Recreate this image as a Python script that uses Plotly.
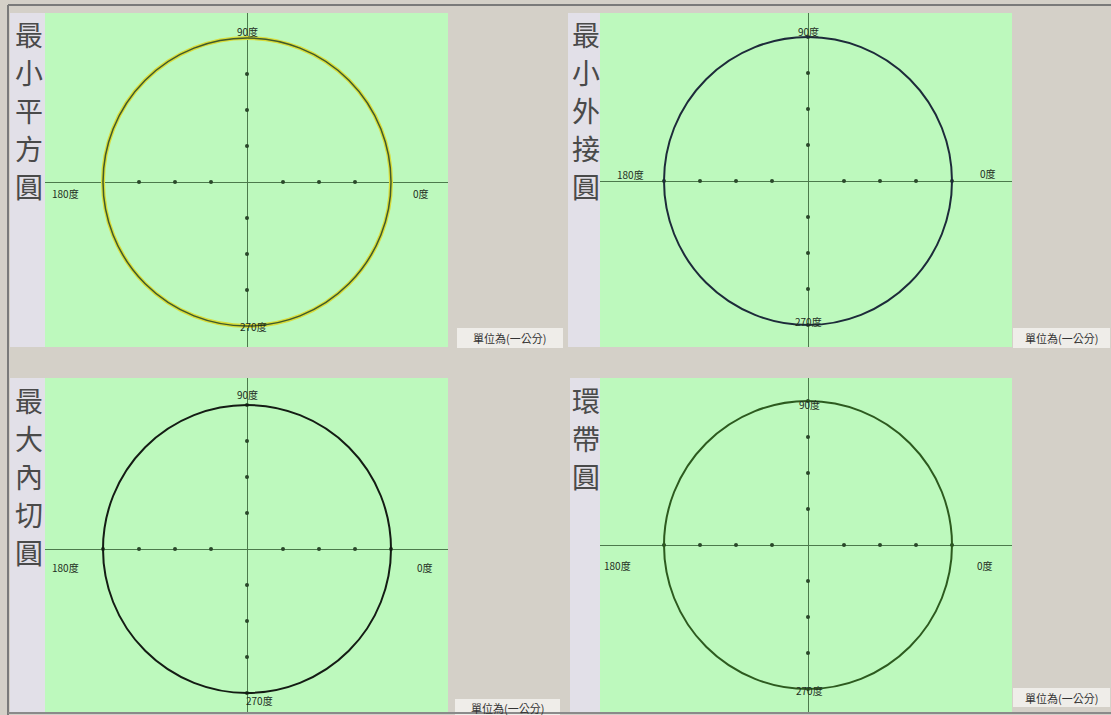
import plotly.graph_objects as go

W, H = 1111, 715

# ---------------- data ----------------
titles = ["最小平方圓", "最小外接圓", "最大內切圓", "環帶圓"]
radii = [4.0, 4.0, 4.0, 4.0]          # circle radius (cm)
centers_x = [0.0, 0.0, 0.0, 0.0]
centers_y = [0.0, 0.0, 0.0, 0.0]
tick_positions = [-4, -3, -2, -1, 1, 2, 3, 4]
angle_labels = ["0度", "90度", "180度", "270度"]
unit_label = "單位為(一公分)"

# ---------------- styling / layout ----------------
GRAY = "#d4d0c8"
GREEN = "#bdf9bd"
STRIP = "#e2e0e8"
AXIS = "#4c7a4c"
DOT = "#2a472a"
CJK = "Noto Sans CJK TC"

# panel boxes in pixels: (x0, x1, y0, y1, centre x px, centre y px)
panels = [
    (45, 448, 13, 347, 247, 182),
    (600, 1012, 13, 347, 808, 181),
    (45, 448, 378, 712, 247, 549),
    (600, 1012, 378, 712, 808, 545),
]
PX_PER_UNIT = 36.0

# label offsets (in data units) per panel for 0,90,180,270
label_pos = [
    [(4.83, -0.31), (0.0, 4.17), (-5.05, -0.31), (0.17, -4.0)],
    [(5.0, 0.22), (0.0, 4.14), (-4.94, 0.19), (0.0, -3.89)],
    [(4.94, -0.5), (0.0, 4.28), (-5.05, -0.5), (0.36, -4.22)],
    [(4.92, -0.56), (0.05, 3.89), (-5.28, -0.58), (0.05, -4.03)],
]
strip_px = [(10, 45, 13, 347), (568, 600, 13, 347), (10, 45, 378, 712), (570, 600, 378, 712)]
title_px = [(29, 34), (586, 34), (29, 400), (586, 400)]   # centre of first character
TITLE_PITCH = 38
unit_box_px = [(457, 563, 328, 348), (1013, 1110, 328, 348), (455, 560, 699, 717), (1013, 1110, 688, 707)]
circle_styles = [
    [dict(color="#d9dc3a", width=4), dict(color="#3f5a2c", width=1.5)],
    [dict(color="#1d2b3a", width=2)],
    [dict(color="#141c14", width=2)],
    [dict(color="#2d5a1f", width=2)],
]


def fx(p):
    return p / W


def fy(p):
    return 1 - p / H


fig = go.Figure()
layout = dict(
    width=W, height=H, margin=dict(l=0, r=0, t=0, b=0),
    paper_bgcolor=GRAY, plot_bgcolor=GREEN, showlegend=False,
)
shapes = []
annotations = []

# background strips (decoration)
for (x0, x1, y0, y1) in strip_px:
    shapes.append(dict(type="rect", xref="paper", yref="paper", x0=fx(x0), x1=fx(x1),
                       y0=fy(y1), y1=fy(y0), fillcolor=STRIP, line=dict(width=0), layer="below"))

for i, (x0, x1, y0, y1, cxp, cyp) in enumerate(panels):
    n = "" if i == 0 else str(i + 1)
    xa, ya = "x" + n, "y" + n
    xr = [(x0 - cxp) / PX_PER_UNIT, (x1 - cxp) / PX_PER_UNIT]
    yr = [(cyp - y1) / PX_PER_UNIT, (cyp - y0) / PX_PER_UNIT]
    common = dict(showgrid=False, zeroline=True, zerolinecolor=AXIS, zerolinewidth=1,
                  showticklabels=False, ticks="", showline=False, fixedrange=True)
    layout["xaxis" + n] = dict(domain=[fx(x0), fx(x1)], range=xr, anchor=ya, **common)
    layout["yaxis" + n] = dict(domain=[fy(y1), fy(y0)], range=yr, anchor=xa, **common)

    # circle
    for st in circle_styles[i]:
        shapes.append(dict(type="circle", xref=xa, yref=ya,
                           x0=centers_x[i] - radii[i], x1=centers_x[i] + radii[i],
                           y0=centers_y[i] - radii[i], y1=centers_y[i] + radii[i],
                           line=st, layer="above"))

    # tick dots on both axes
    fig.add_trace(go.Scatter(
        x=tick_positions + [0] * len(tick_positions),
        y=[0] * len(tick_positions) + tick_positions,
        mode="markers", marker=dict(size=4, color=DOT),
        xaxis=xa, yaxis=ya, hoverinfo="skip"))

    # angle labels
    for lab, (lx, ly) in zip(angle_labels, label_pos[i]):
        annotations.append(dict(text=lab, x=lx, y=ly, xref=xa, yref=ya, showarrow=False,
                                xanchor="center", yanchor="middle",
                                font=dict(family=CJK, size=10, color="#1e2e1e")))

    # vertical title, one character per annotation
    tx, ty = title_px[i]
    for k, ch in enumerate(titles[i]):
        annotations.append(dict(text=ch, x=fx(tx), y=fy(ty + k * TITLE_PITCH),
                                xref="paper", yref="paper", xanchor="center", yanchor="middle",
                                showarrow=False,
                                font=dict(family=CJK, size=28, color="#4a4a4a")))

    # unit box
    bx0, bx1, by0, by1 = unit_box_px[i]
    shapes.append(dict(type="rect", xref="paper", yref="paper", x0=fx(bx0), x1=fx(bx1),
                       y0=fy(by1), y1=fy(by0), fillcolor="#efede9", line=dict(width=0)))
    annotations.append(dict(text=unit_label, x=fx((bx0 + bx1) / 2), y=fy((by0 + by1) / 2),
                            xref="paper", yref="paper", showarrow=False,
                            xanchor="center", yanchor="middle",
                            font=dict(family=CJK, size=11, color="#333333")))

# outer frame lines
shapes.append(dict(type="line", xref="paper", yref="paper", x0=fx(8), x1=1, y0=fy(5), y1=fy(5),
                   line=dict(color="#7a7a7a", width=2)))
shapes.append(dict(type="line", xref="paper", yref="paper", x0=fx(8), x1=fx(8), y0=0, y1=fy(5),
                   line=dict(color="#7a7a7a", width=2)))
shapes.append(dict(type="line", xref="paper", yref="paper", x0=fx(8), x1=1, y0=fy(713), y1=fy(713),
                   line=dict(color="#8a8a8a", width=2)))

layout["shapes"] = shapes
layout["annotations"] = annotations
fig.update_layout(**layout)
fig.write_html("out.html")
